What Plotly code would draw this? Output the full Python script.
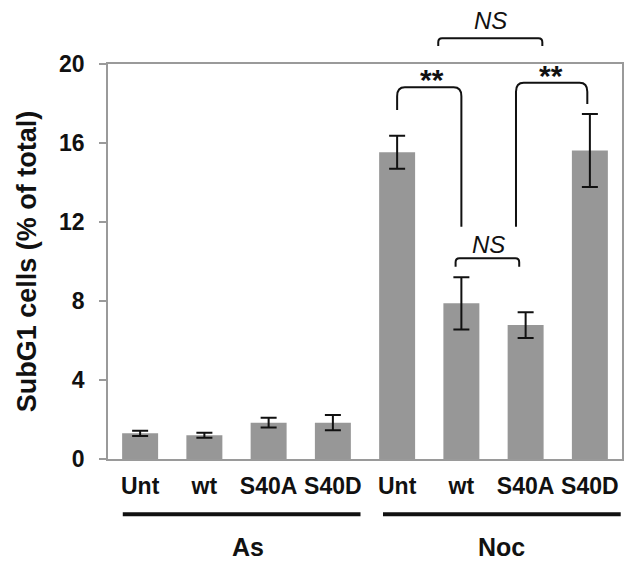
import plotly.graph_objects as go

# ---- data ----
treatments = ["As", "As", "As", "As", "Noc", "Noc", "Noc", "Noc"]
constructs = ["Unt", "wt", "S40A", "S40D", "Unt", "wt", "S40A", "S40D"]
subg1 = [1.3, 1.2, 1.84, 1.84, 15.53, 7.88, 6.78, 15.62]
subg1_err = [0.13, 0.13, 0.25, 0.39, 0.84, 1.32, 0.65, 1.85]
y_ticks = [0, 4, 8, 12, 16, 20]
groups = ["As", "Noc"]

FONT = "Liberation Sans, Arial, sans-serif"
YMAX = 20.0
xpos = list(range(len(constructs)))

fig = go.Figure()
fig.add_trace(go.Bar(
    x=xpos, y=subg1,
    width=0.56,
    marker=dict(color="#979797", line=dict(width=0)),
    error_y=dict(type="data", array=subg1_err, visible=True,
                 color="#111111", thickness=2, width=8),
    customdata=treatments,
    hovertemplate="%{customdata} %{text}: %{y}<extra></extra>",
    text=constructs, textposition="none",
))

def py(v):
    return v / YMAX

def bracket(x0, x1, ytop, yl, yr, rx=0.12, ry=0.45):
    p = (f"M {x0},{py(yl)} L {x0},{py(ytop - ry)} Q {x0},{py(ytop)} {x0 + rx},{py(ytop)} "
         f"L {x1 - rx},{py(ytop)} Q {x1},{py(ytop)} {x1},{py(ytop - ry)} L {x1},{py(yr)}")
    fig.add_shape(type="path", path=p, xref="x", yref="paper",
                  line=dict(color="#111111", width=2))

bracket(4.0, 5.0, 18.82, 17.67, 11.76)
bracket(5.85, 6.96, 19.05, 11.76, 17.97)
bracket(4.64, 6.26, 21.3, 20.91, 20.91, rx=0.06, ry=0.2)
bracket(4.91, 5.90, 10.16, 9.74, 9.74, rx=0.06, ry=0.2)

def label(x, y, txt, size, bold=True, italic=False):
    fig.add_annotation(x=x, y=py(y), xref="x", yref="paper", text=txt,
                       showarrow=False, xanchor="center", yanchor="middle",
                       font=dict(family=FONT, size=size, color="#111111",
                                 weight="bold" if bold else "normal",
                                 style="italic" if italic else "normal"))

label(4.54, 19.2, "**", 30)
label(6.4, 19.4, "**", 30)
label(5.45, 22.2, "NS", 24, bold=False, italic=True)
label(5.42, 10.84, "NS", 24, bold=False, italic=True)

# group underlines and labels
group_spans = {"As": (-0.27, 3.43), "Noc": (3.78, 7.48)}
for g in groups:
    a, b = group_spans[g]
    fig.add_shape(type="line", x0=a, x1=b, y0=-0.14, y1=-0.14, xref="x", yref="paper",
                  line=dict(color="#111111", width=4))
    fig.add_annotation(x=(a + b) / 2 + (0.1 if g == "As" else 0.0), y=-0.222, xref="x", yref="paper",
                       text=g, showarrow=False, xanchor="center", yanchor="middle",
                       font=dict(family=FONT, size=25, color="#111111", weight="bold"))

# the page body adds an 8 px offset, so the figure is drawn 8 px smaller
fig.update_layout(
    width=628, height=558,
    margin=dict(l=100, r=12, t=56, b=107),
    paper_bgcolor="white", plot_bgcolor="white",
    showlegend=False,
    font=dict(family=FONT, color="#111111"),
    xaxis=dict(range=[-0.5, 7.5], tickvals=xpos, ticktext=constructs,
               showgrid=False, zeroline=False, showline=True, mirror=True,
               linecolor="#9a9a9a", linewidth=1.5, ticks="",
               tickfont=dict(family=FONT, size=23, color="#111111", weight="bold"),
               ticklabelstandoff=6),
    yaxis=dict(range=[0, YMAX], tickvals=y_ticks,
               showgrid=False, zeroline=False, showline=True, mirror=True,
               linecolor="#9a9a9a", linewidth=1.5, ticks="outside", ticklen=7,
               tickcolor="#9a9a9a", tickwidth=1.5,
               tickfont=dict(family=FONT, size=23, color="#111111", weight="bold"),
               ticklabelstandoff=10,
               title=dict(text="SubG1 cells (% of total)", standoff=15,
                          font=dict(family=FONT, size=27, color="#111111", weight="bold"))),
)

fig.write_html("out.html")
